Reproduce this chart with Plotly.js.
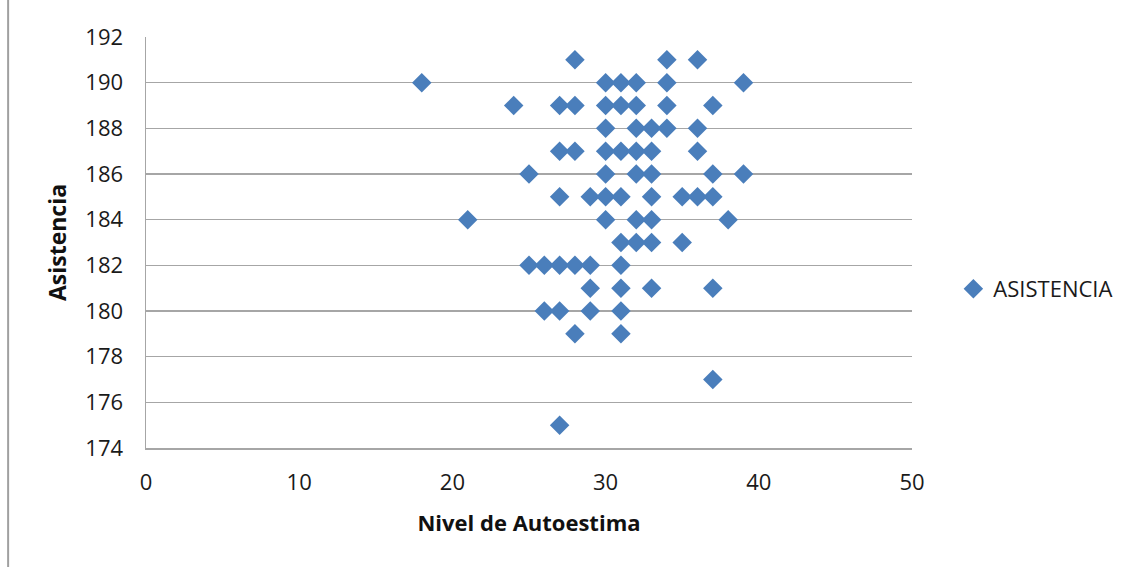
<!DOCTYPE html>
<html>
<head>
<meta charset="utf-8">
<script src="https://cdn.plot.ly/plotly-3.0.1.min.js"></script>
<style>
  html, body { margin: 0; padding: 0; background: #ffffff; }
  #chart { width: 1134px; height: 567px; }
</style>
</head>
<body>
<div id="chart"></div>
<script>
// Nivel de Autoestima (x) vs Asistencia (y), one point per student
const autoestima = [
  28, 34, 36,
  18, 30, 31, 32, 34, 39,
  24, 27, 28, 30, 31, 32, 34, 37,
  30, 32, 33, 34, 36,
  27, 28, 30, 31, 32, 33, 36,
  25, 30, 32, 33, 37, 39,
  27, 29, 30, 31, 33, 35, 36, 37,
  21, 30, 32, 33, 38,
  31, 32, 33, 35,
  25, 26, 27, 28, 29, 31,
  29, 31, 33, 37,
  26, 27, 29, 31,
  28, 31,
  37,
  27
];
const asistencia = [
  191, 191, 191,
  190, 190, 190, 190, 190, 190,
  189, 189, 189, 189, 189, 189, 189, 189,
  188, 188, 188, 188, 188,
  187, 187, 187, 187, 187, 187, 187,
  186, 186, 186, 186, 186, 186,
  185, 185, 185, 185, 185, 185, 185, 185,
  184, 184, 184, 184, 184,
  183, 183, 183, 183,
  182, 182, 182, 182, 182, 182,
  181, 181, 181, 181,
  180, 180, 180, 180,
  179, 179,
  177,
  175
];
const seriesName = 'ASISTENCIA';
const xTitle = 'Nivel de Autoestima';
const yTitle = 'Asistencia';

const font = 'Open Sans, Liberation Sans, sans-serif';
const gridGray = '#a6a6a6';
const textColor = '#1a1a1a';

const trace = {
  type: 'scatter',
  mode: 'markers',
  name: seriesName,
  x: autoestima,
  y: asistencia,
  marker: { symbol: 'diamond', size: 15, color: '#4a7ebb', line: { width: 0 } },
  showlegend: true
};

const layout = {
  width: 1134,
  height: 567,
  margin: { l: 146, r: 222, t: 37, b: 119 },
  paper_bgcolor: '#ffffff',
  plot_bgcolor: '#ffffff',
  font: { family: font, size: 22, color: textColor },
  xaxis: {
    range: [0, 50],
    dtick: 10,
    tick0: 0,
    showgrid: false,
    zeroline: false,
    showline: true,
    linecolor: gridGray,
    linewidth: 1.5,
    ticks: '',
    ticklabelstandoff: 14,
    tickfont: { family: font, size: 22, color: textColor },
    title: { text: xTitle, font: { family: font, size: 22, color: '#111111', weight: 'bold' }, standoff: 20 },
    automargin: false,
    fixedrange: true
  },
  yaxis: {
    range: [174, 192],
    dtick: 2,
    tick0: 174,
    showgrid: true,
    gridcolor: gridGray,
    gridwidth: 1.5,
    zeroline: false,
    showline: true,
    linecolor: gridGray,
    linewidth: 1.5,
    ticks: '',
    ticklabelstandoff: 17,
    tickfont: { family: font, size: 22, color: textColor },
    title: { text: yTitle, font: { family: font, size: 23, color: '#111111', weight: 'bold' }, standoff: 12 },
    automargin: false,
    fixedrange: true
  },
  legend: {
    x: 1.054,
    xanchor: 'left',
    y: 0.387,
    yanchor: 'middle',
    font: { family: font, size: 22, color: textColor },
    bgcolor: 'rgba(0,0,0,0)',
    itemwidth: 30
  },
  shapes: [
    {
      type: 'line', xref: 'paper', yref: 'paper',
      x0: -0.18, x1: -0.18, y0: -0.29, y1: 1.09,
      line: { color: '#a0a0a0', width: 2 }
    }
  ]
};

Plotly.newPlot('chart', [trace], layout, { displayModeBar: false, staticPlot: true });
</script>
</body>
</html>
